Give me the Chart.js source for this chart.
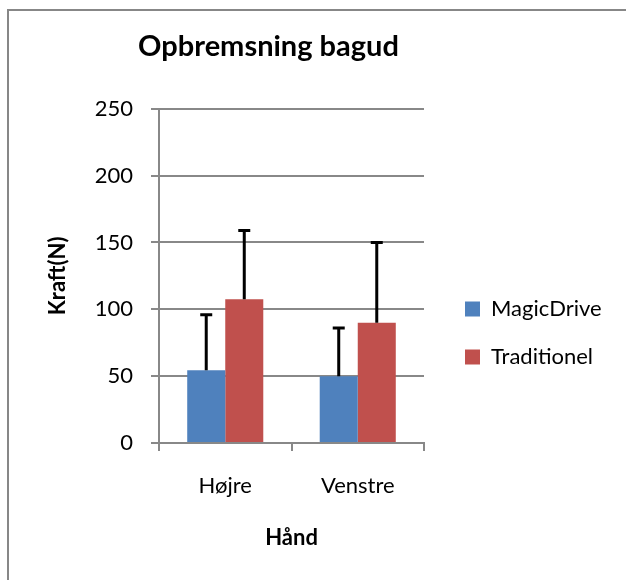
<!DOCTYPE html>
<html><head><meta charset="utf-8">
<script src="https://cdn.jsdelivr.net/npm/chart.js@4"></script>
<style>
html,body{margin:0;padding:0;background:#fff;overflow:hidden}
#wrap{position:relative;width:626px;height:580px;overflow:hidden}
#frame{position:absolute;left:7px;top:9px;width:700px;height:700px;border-left:2px solid #878787;border-top:2px solid #878787}
canvas{position:absolute;left:0;top:0}
</style></head><body>
<div id="wrap"><div id="frame"></div><canvas id="c" width="626" height="580"></canvas></div>
<script>
const categories = ['Højre', 'Venstre'];
const seriesNames = ['MagicDrive', 'Traditionel'];
const magicDrive = [54.5, 50];
const traditionel = [107.5, 90];
const magicDriveErr = [41.5, 36];
const traditionelErr = [51.5, 60];
const yTicks = [0, 50, 100, 150, 200, 250];
const errors = [magicDriveErr, traditionelErr];

const FONT = 'Lato';
const GRID = '#888888';

const errorBars = {
  id: 'errorBars',
  afterDatasetsDraw(chart) {
    const ctx = chart.ctx, ys = chart.scales.y;
    chart.data.datasets.forEach((ds, i) => {
      const meta = chart.getDatasetMeta(i);
      meta.data.forEach((bar, j) => {
        const top = ys.getPixelForValue(ds.data[j] + errors[i][j]);
        ctx.save();
        ctx.strokeStyle = '#000';
        ctx.lineWidth = 3;
        ctx.beginPath();
        ctx.moveTo(bar.x, bar.y);
        ctx.lineTo(bar.x, top);
        ctx.moveTo(bar.x - 6, top);
        ctx.lineTo(bar.x + 6, top);
        ctx.stroke();
        ctx.restore();
      });
    });
  }
};

const placeBoxes = {
  id: 'placeBoxes',
  afterLayout(chart) {
    const t = chart.titleBlock;
    if (t) { t.left = 0; t.right = 537; }
    const L = chart.legend;
    if (L) {
      L.left = 465 - 26; L.right = 626;
      L.top = 43; L.bottom = 623;
    }
  }
};

const chart = new Chart(document.getElementById('c'), {
  type: 'bar',
  data: {
    labels: categories,
    datasets: [
      { label: seriesNames[0], data: magicDrive, backgroundColor: '#4F81BD', borderWidth: 0, categoryPercentage: 0.574, barPercentage: 1 },
      { label: seriesNames[1], data: traditionel, backgroundColor: '#C0504D', borderWidth: 0, categoryPercentage: 0.574, barPercentage: 1 }
    ]
  },
  options: {
    responsive: false,
    animation: false,
    devicePixelRatio: 1,
    layout: { padding: { left: 0, top: 0, right: 0, bottom: 0 } },
    plugins: {
      title: {
        display: true, text: 'Opbremsning bagud', color: '#000',
        font: { family: FONT, size: 29, weight: 'bold', lineHeight: 1.2 },
        padding: { top: 29, bottom: 45 }
      },
      legend: {
        position: 'right',
        labels: { boxWidth: 15, boxHeight: 15, padding: 26, color: '#000', font: { family: FONT, size: 22 } }
      },
      tooltip: { enabled: false }
    },
    scales: {
      x: {
        offset: true,
        grid: { display: true, drawOnChartArea: false, drawTicks: true, tickLength: 8, color: GRID, lineWidth: 2, offset: true },
        border: { display: true, color: GRID, width: 2 },
        ticks: { color: '#000', font: { family: FONT, size: 22 }, padding: 22, maxRotation: 0 },
        title: { display: true, text: 'Hånd', color: '#000', font: { family: FONT, size: 22, weight: 'bold' }, padding: { top: 0, bottom: 29 } },
        afterFit(s) { s.height = 137; }
      },
      y: {
        min: 0, max: 250,
        afterBuildTicks(s) { s.ticks = yTicks.map(v => ({ value: v })); },
        grid: { color: GRID, lineWidth: 2, tickLength: 8, drawTicks: true },
        border: { display: true, color: GRID, width: 2 },
        ticks: { color: '#000', font: { family: FONT, size: 22 }, padding: 18 },
        title: { display: true, text: 'Kraft(N)', color: '#000', font: { family: FONT, size: 22, weight: 'bold' }, padding: { top: 45, bottom: 0 } },
        afterFit(s) { s.width = 159; }
      }
    }
  },
  plugins: [errorBars, placeBoxes]
});
// settle the plot's right edge so the chart area ends where the reference's does
for (let k = 0; k < 10; k++) {
  const pr = Math.max(0, chart.options.layout.padding.right + (chart.chartArea.right - 424));
  chart.options.layout.padding.right = pr;
  chart.update();
}
</script>
</body></html>
